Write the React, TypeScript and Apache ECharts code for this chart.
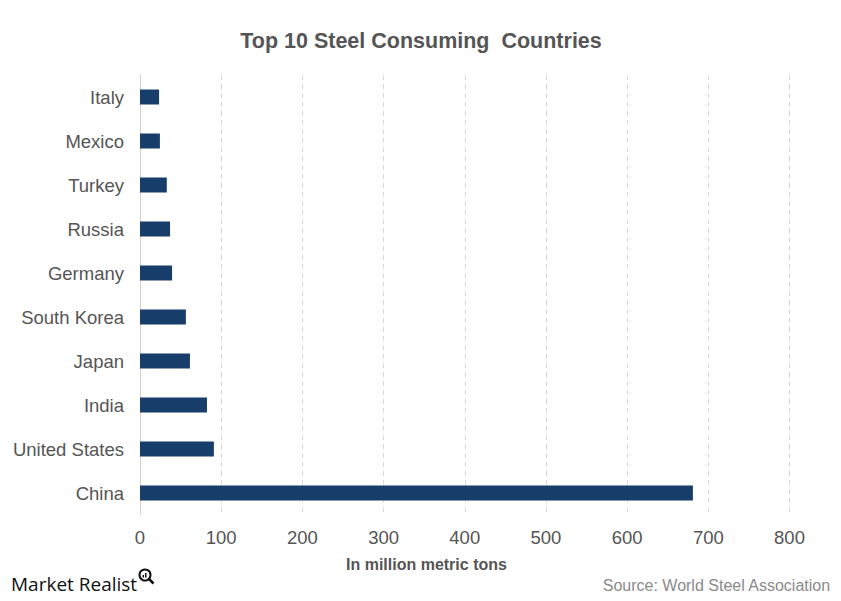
import React, { useEffect, useRef } from "react";
import * as echarts from "echarts";

const categories = ["China", "United States", "India", "Japan", "South Korea", "Germany", "Russia", "Turkey", "Mexico", "Italy"];
const values = [681, 91, 82.5, 61.5, 56.5, 39.5, 37, 33, 24.5, 23.5];
const xTicks = [0, 100, 200, 300, 400, 500, 600, 700, 800];

const FONT = "'Liberation Sans', Arial, sans-serif";

export default function App() {
  const ref = useRef<HTMLDivElement>(null);
  useEffect(() => {
    const chart = echarts.init(ref.current!, null, { renderer: "svg" });
    chart.setOption({
      animation: false,
      backgroundColor: "#ffffff",
      title: {
        text: "Top 10 Steel Consuming  Countries",
        left: 416,
        textAlign: "center",
        top: 25,
        textStyle: { fontFamily: FONT, fontSize: 21.5, fontWeight: "bold", color: "#555555" },
      },
      grid: { left: 140, right: 51.5, top: 75, bottom: 86, containLabel: false },
      xAxis: {
        type: "value",
        min: xTicks[0],
        max: xTicks[xTicks.length - 1],
        interval: 100,
        axisLine: { show: false },
        axisTick: { show: false },
        splitLine: { show: true, lineStyle: { color: "#d9d9d9", type: [5, 4], width: 1 } },
        axisLabel: { fontFamily: FONT, fontSize: 18.5, color: "#555555", margin: 13 },
      },
      yAxis: {
        type: "category",
        data: categories,
        axisLine: { show: true, lineStyle: { color: "#d0d0d0", width: 1 } },
        axisTick: { show: false },
        axisLabel: { fontFamily: FONT, fontSize: 18.5, color: "#555555", margin: 16 },
      },
      series: [
        {
          type: "bar",
          data: values,
          barWidth: 15,
          itemStyle: { color: "#173d6b" },
        },
      ],
      graphic: [
        {
          type: "text",
          left: 346,
          top: 556,
          style: { text: "In million metric tons", fontFamily: FONT, fontSize: 16, fontWeight: "bold", fill: "#555555" },
        },
        {
          type: "text",
          right: 10,
          top: 577,
          style: { text: "Source: World Steel Association", fontFamily: FONT, fontSize: 16, fill: "#8a8a8a" },
        },
        {
          type: "text",
          left: 11,
          top: 574,
          style: { text: "Market Realist", fontFamily: "'Open Sans', sans-serif", fontSize: 19, fill: "#111111", letterSpacing: -0.9 },
        },
        {
          type: "circle",
          shape: { cx: 145, cy: 575, r: 5.5 },
          style: { fill: "none", stroke: "#111111", lineWidth: 2 },
        },
        {
          type: "line",
          shape: { x1: 149, y1: 579, x2: 153.5, y2: 583.5 },
          style: { stroke: "#111111", lineWidth: 2.5 },
        },
        {
          type: "rect",
          shape: { x: 142.5, y: 575, width: 1.5, height: 2.5 },
          style: { fill: "#111111" },
        },
        {
          type: "rect",
          shape: { x: 145, y: 573, width: 1.5, height: 4.5 },
          style: { fill: "#111111" },
        },
      ],
    });
    return () => chart.dispose();
  }, []);
  return <div ref={ref} style={{ width: 841, height: 601, position: "absolute", left: 0, top: 0 }} />;
}
